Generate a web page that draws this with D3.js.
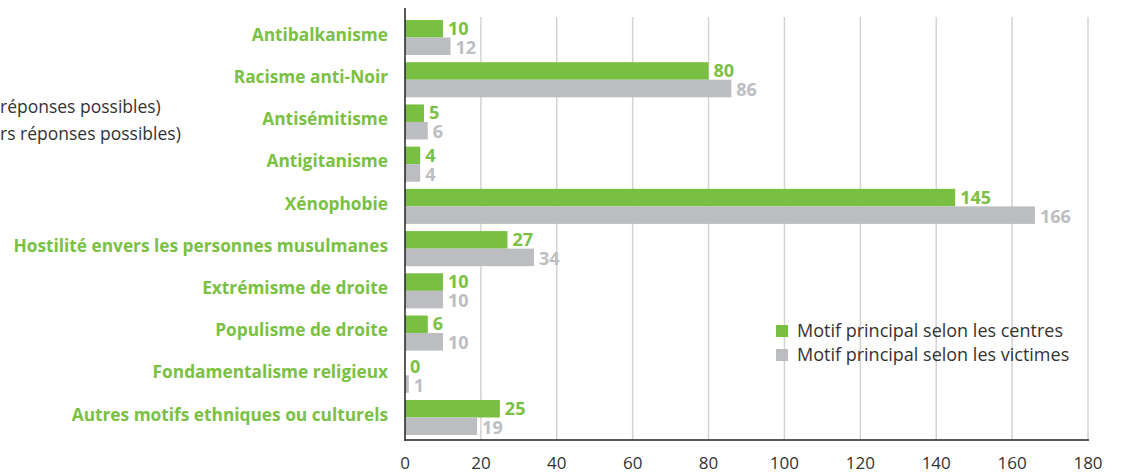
<!DOCTYPE html>
<html>
<head>
<meta charset="utf-8">
<script src="https://cdn.jsdelivr.net/npm/d3@7"></script>
<style>
    body { margin: 0; background: #fff; }
    svg { display: block; font-family: "Open Sans", sans-serif; }
</style>
</head>
<body>
<div id="chart"></div>
<script>
const categories = [
    'Antibalkanisme',
    'Racisme anti-Noir',
    'Antisémitisme',
    'Antigitanisme',
    'Xénophobie',
    'Hostilité envers les personnes musulmanes',
    'Extrémisme de droite',
    'Populisme de droite',
    'Fondamentalisme religieux',
    'Autres motifs ethniques ou culturels'
];
const centres = [10, 80, 5, 4, 145, 27, 10, 6, 0, 25];
const victimes = [12, 86, 6, 4, 166, 34, 10, 10, 1, 19];
const seriesNames = ['Motif principal selon les centres', 'Motif principal selon les victimes'];
const xTicks = [0, 20, 40, 60, 80, 100, 120, 140, 160, 180];

const width = 1121, height = 473;
const green = '#78bf42', grey = '#bcbdc1';
const greenText = '#7ac143', greyText = '#bdbec2';

const svg = d3.select('#chart').append('svg')
    .attr('width', width)
    .attr('height', height);

const x = d3.scaleLinear().domain([0, 180]).range([405, 1088]);
const y = d3.scaleBand()
    .domain(categories)
    .range([16.4, 438.6])
    .paddingInner(0.17)
    .paddingOuter(0.085);
const barH = y.bandwidth() / 2;

// grid lines
svg.append('g')
    .selectAll('line')
    .data(xTicks.slice(1))
    .join('line')
    .attr('x1', d => x(d)).attr('x2', d => x(d))
    .attr('y1', 17).attr('y2', 440)
    .attr('stroke', '#d3d3d3')
    .attr('stroke-width', 1.5);

// bars
const groups = svg.append('g')
    .selectAll('g')
    .data(categories)
    .join('g')
    .attr('transform', d => `translate(0,${y(d)})`);

groups.append('rect')
    .attr('x', x(0))
    .attr('y', 0)
    .attr('width', (d, i) => x(centres[i]) - x(0))
    .attr('height', barH)
    .attr('fill', green);

groups.append('rect')
    .attr('x', x(0))
    .attr('y', barH)
    .attr('width', (d, i) => x(victimes[i]) - x(0))
    .attr('height', barH)
    .attr('fill', grey);

groups.append('text')
    .attr('x', (d, i) => x(centres[i]) + 5)
    .attr('y', barH / 2)
    .attr('dy', '0.34em')
    .attr('fill', greenText)
    .style('font-size', '18px')
    .style('font-weight', 'bold')
    .text((d, i) => centres[i]);

groups.append('text')
    .attr('x', (d, i) => x(victimes[i]) + 5)
    .attr('y', barH * 1.5 + 1.5)
    .attr('dy', '0.34em')
    .attr('fill', greyText)
    .style('font-size', '18px')
    .style('font-weight', 'bold')
    .text((d, i) => victimes[i]);

// category labels
groups.append('text')
    .attr('x', 388)
    .attr('y', barH - 3)
    .attr('dy', '0.36em')
    .attr('text-anchor', 'end')
    .attr('fill', greenText)
    .style('font-size', '17.3px')
    .style('font-weight', 'bold')
    .text(d => d);

// axes
svg.append('line')
    .attr('x1', x(0)).attr('x2', x(0))
    .attr('y1', 8).attr('y2', 441)
    .attr('stroke', '#222')
    .attr('stroke-width', 1.5);

svg.append('line')
    .attr('x1', x(0)).attr('x2', x(180) + 1)
    .attr('y1', 440).attr('y2', 440)
    .attr('stroke', '#222')
    .attr('stroke-width', 1.5);

svg.append('g')
    .selectAll('text')
    .data(xTicks)
    .join('text')
    .attr('x', d => x(d))
    .attr('y', 469)
    .attr('text-anchor', 'middle')
    .attr('fill', '#333')
    .style('font-size', '17px')
    .text(d => d);

// legend
const legend = svg.append('g').attr('transform', 'translate(776,325)');
seriesNames.forEach((name, i) => {
    legend.append('rect')
        .attr('x', 0)
        .attr('y', i * 24)
        .attr('width', 12)
        .attr('height', 12)
        .attr('fill', i === 0 ? green : grey);
    legend.append('text')
        .attr('x', 21)
        .attr('y', i * 24 + 6)
        .attr('dy', '0.36em')
        .attr('fill', '#333')
        .style('font-size', '18px')
        .text(name);
});

// cropped text at the left edge
svg.append('text')
    .attr('x', 0).attr('y', 113)
    .attr('fill', '#333')
    .style('font-size', '17.5px')
    .text('réponses possibles)');
svg.append('text')
    .attr('x', 0).attr('y', 140)
    .attr('fill', '#333')
    .style('font-size', '17.5px')
    .text('rs réponses possibles)');
</script>
</body>
</html>
